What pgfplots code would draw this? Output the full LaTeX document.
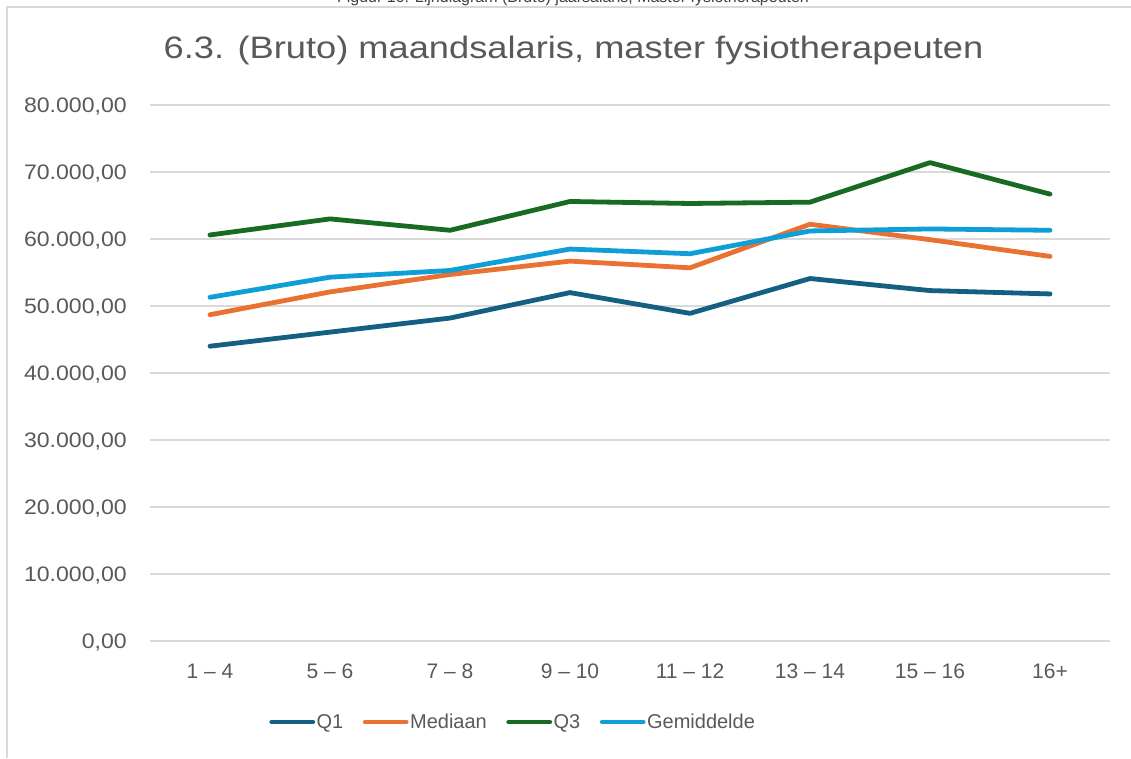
\documentclass[border=0pt]{standalone}
\usepackage{pgfplots}
\pgfplotsset{compat=1.18}
\usepackage{pgfplotstable}
\usepackage{fontspec}
\setmainfont{Liberation Sans}
\definecolor{txt}{HTML}{595959}
\definecolor{gridc}{HTML}{D9D9D9}
\definecolor{cQ1}{HTML}{156082}
\definecolor{cMed}{HTML}{E97132}
\definecolor{cQ3}{HTML}{196B24}
\definecolor{cGem}{HTML}{0F9ED5}

\pgfplotstableread{
x Q1 Med Q3 Gem
0 44000 48700 60600 51300
1 46100 52100 63000 54300
2 48200 54700 61300 55300
3 52000 56700 65600 58500
4 48900 55700 65300 57800
5 54100 62200 65500 61200
6 52300 59900 71400 61500
7 51800 57400 66700 61300
}\salary

\begin{document}
\begin{tikzpicture}[x=1pt,y=1pt]
\useasboundingbox (0,0) rectangle (1131,758);
\begin{scope}
\clip (0,0) rectangle (1131,758);
\node[anchor=base, inner sep=0pt, font=\fontsize{16}{19}\selectfont, text=black!75] at (573,755) {Figuur 16: Lijndiagram (Bruto) jaarsalaris, Master fysiotherapeuten};
\end{scope}
\draw[gridc, line width=1.3pt] (7,0) -- (7,751) -- (1131,751);
\node[anchor=base, inner sep=0pt, font=\fontsize{31}{36}\selectfont, text=txt] at (573.5,699.7) {\scalebox{1.17}[1]{6.3. (Bruto) maandsalaris, master fysiotherapeuten}};
\begin{axis}[
  at={(150pt,117pt)}, anchor=south west,
  scale only axis, width=960pt, height=536pt,
  xmin=-0.5, xmax=7.5, ymin=0, ymax=80000,
  axis line style={draw=none},
  major tick length=0pt,
  ymajorgrids,
  major grid style={gridc, line width=1.3pt},
  ytick={0,10000,...,80000},
  xtick={0,...,7},
  xticklabels={1 – 4, 5 – 6, 7 – 8, 9 – 10, 11 – 12, 13 – 14, 15 – 16, 16+},
  scaled y ticks=false,
  /pgf/number format/fixed,
  /pgf/number format/fixed zerofill,
  /pgf/number format/precision=2,
  /pgf/number format/1000 sep={.},
  /pgf/number format/dec sep={,},
  /pgf/number format/assume math mode=true,
  yticklabel={\scalebox{1.1}[1]{\pgfmathprintnumber{\tick}}},
  every tick label/.append style={font=\fontsize{21}{25}\selectfont, text=txt},
  yticklabel style={anchor=base east, inner sep=0pt, xshift=-23pt, yshift=-7.6pt},
  xticklabel style={anchor=base, inner sep=0pt, yshift=-37pt},
  legend columns=4,
  legend style={at={(0.378,-0.151)}, anchor=center, draw=none, fill=none,
    font=\fontsize{20}{24}\selectfont, text=txt, inner sep=0pt,
    nodes={inner sep=1.5pt},
    /tikz/every even column/.append style={column sep=18pt}},
  legend image code/.code={\draw[#1, line width=4.8pt, line cap=round] (0pt,0pt) -- (41pt,0pt);},
  every axis plot/.append style={line width=4.8pt, line cap=round, line join=round, mark=none},
]
\addplot[cQ1] table[x=x, y=Q1] {\salary};
\addlegendentry{Q1}
\addplot[cMed] table[x=x, y=Med] {\salary};
\addlegendentry{Mediaan}
\addplot[cQ3] table[x=x, y=Q3] {\salary};
\addlegendentry{Q3}
\addplot[cGem] table[x=x, y=Gem] {\salary};
\addlegendentry{Gemiddelde}
\end{axis}
\end{tikzpicture}
\end{document}
